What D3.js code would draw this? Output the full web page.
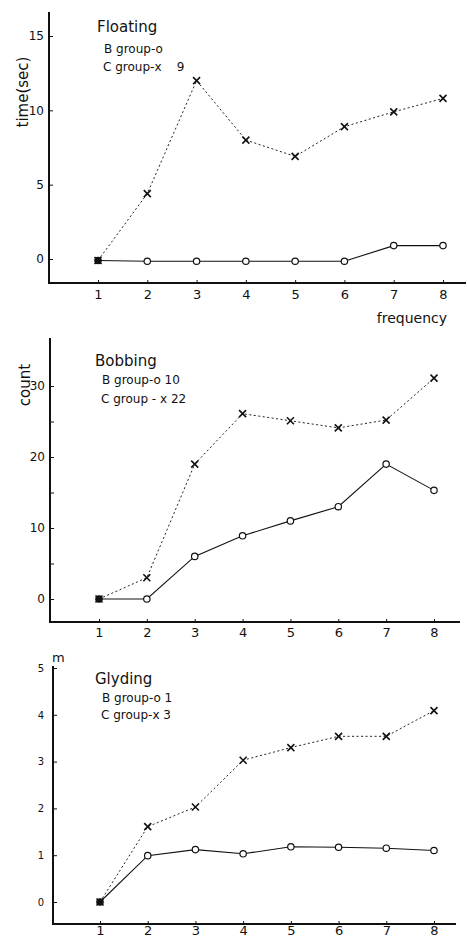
<!DOCTYPE html>
<html>
<head>
<meta charset="utf-8">
<script src="https://cdn.jsdelivr.net/npm/d3@7"></script>
<style>
body { margin: 0; background: #fff; }
text { font-family: "DejaVu Sans", sans-serif; fill: #111; white-space: pre; }
</style>
</head>
<body>
<svg id="chart" width="467" height="940"></svg>
<script>

var freq = [1, 2, 3, 4, 5, 6, 7, 8];

var floatB = [-0.1, -0.15, -0.15, -0.15, -0.15, -0.15, 0.9, 0.9];
var floatC = [-0.1, 4.4, 12.0, 8.0, 6.9, 8.9, 9.9, 10.8];
var bobB = [0, 0, 6.0, 8.9, 11.0, 13.0, 19.0, 15.3];
var bobC = [0, 3.0, 19.0, 26.1, 25.1, 24.1, 25.2, 31.1];
var glideB = [0, 0.99, 1.12, 1.03, 1.18, 1.17, 1.15, 1.10];
var glideC = [0, 1.61, 2.03, 3.03, 3.30, 3.54, 3.54, 4.09];

var floatTicks = [0, 5, 10, 15];
var bobTicks = [0, 5, 10, 15, 20, 25, 30];
var glideTicks = [0, 1, 2, 3, 4, 5];

var titles = ["Floating", "Bobbing", "Glyding"];
var legendB = ["B group-o", "B group-o 10", "B group-o 1"];
var legendC = ["C group-x    9", "C group - x 22", "C group-x 3"];
var yLabels = ["time(sec)", "count", "m"];

var svg = d3.select("#chart");

function drawPanel(p)
{
	var g = svg.append("g");

	var x = d3.scaleLinear().domain([1, 8]).range(p.xr);
	var y = d3.scaleLinear().domain(p.yd).range(p.yr);

	// axis lines
	g.append("line")
		.attr("x1", p.left).attr("x2", p.left)
		.attr("y1", p.top).attr("y2", p.bottom + 1)
		.attr("stroke", "#111").attr("stroke-width", 2);
	g.append("line")
		.attr("x1", p.left - 1).attr("x2", p.right)
		.attr("y1", p.bottom).attr("y2", p.bottom)
		.attr("stroke", "#111").attr("stroke-width", 2);

	var yAxis = d3.axisLeft(y)
		.tickValues(p.ticks)
		.tickSizeInner(-4)
		.tickSizeOuter(0)
		.tickPadding(p.yPad)
		.tickFormat(function(d)
		{
			return p.labelEvery && d % p.labelEvery ? "" : d;
		});
	var ya = g.append("g")
		.attr("transform", "translate(" + p.left + ",0)")
		.call(yAxis);
	ya.select(".domain").remove();
	ya.selectAll("text").style("font-family", "DejaVu Sans").style("font-size", p.yFont + "px").attr("fill", "#111");
	ya.selectAll("line").attr("stroke", "#111");

	var xAxis = d3.axisBottom(x)
		.tickValues(freq)
		.tickFormat(d3.format("d"))
		.tickSizeInner(-3)
		.tickSizeOuter(0)
		.tickPadding(p.xPad);
	var xa = g.append("g")
		.attr("transform", "translate(0," + p.bottom + ")")
		.call(xAxis);
	xa.select(".domain").remove();
	xa.selectAll("text").style("font-family", "DejaVu Sans").style("font-size", "13px").attr("fill", "#111");
	xa.selectAll("line").attr("stroke", "#111");

	var line = d3.line()
		.x(function(d, i) { return x(freq[i]); })
		.y(function(d) { return y(d); });

	g.append("path")
		.datum(p.c)
		.attr("d", line)
		.attr("fill", "none")
		.attr("stroke", "#222")
		.attr("stroke-width", 1)
		.attr("stroke-dasharray", "2,2.5");

	g.append("path")
		.datum(p.b)
		.attr("d", line)
		.attr("fill", "none")
		.attr("stroke", "#111")
		.attr("stroke-width", 1.1);

	g.selectAll(".xm")
		.data(p.c)
		.enter()
		.append("path")
		.attr("d", function(d, i)
		{
			var cx = x(freq[i]), cy = y(d), s = 3.5;
			return "M" + (cx - s) + "," + (cy - s) + "L" + (cx + s) + "," + (cy + s) +
				"M" + (cx - s) + "," + (cy + s) + "L" + (cx + s) + "," + (cy - s);
		})
		.attr("stroke", "#111")
		.attr("stroke-width", 1.6);

	g.selectAll(".om")
		.data(p.b)
		.enter()
		.append("circle")
		.attr("cx", function(d, i) { return x(freq[i]); })
		.attr("cy", function(d) { return y(d); })
		.attr("r", 3.2)
		.attr("fill", function(d, i) { return i == 0 ? "#111" : "#fff"; })
		.attr("stroke", "#111")
		.attr("stroke-width", 1.2);

	g.append("text")
		.attr("x", p.titleX).attr("y", p.titleY)
		.style("font-size", "15px")
		.text(p.title);
	g.append("text")
		.attr("x", p.titleX + 7).attr("y", p.titleY + p.legGap)
		.style("font-size", "12px")
		.text(p.legB);
	g.append("text")
		.attr("x", p.titleX + 6).attr("y", p.titleY + p.legGap + p.legStep)
		.style("font-size", "12px")
		.text(p.legC);

	return g;
}

var panels = [
	{ title: titles[0], b: floatB, c: floatC, ticks: floatTicks, yd: [0, 15], yr: [259, 36],
	  xr: [98, 443], left: 49, right: 466, top: 12, bottom: 283, yPad: 5, yFont: 12, xPad: 7,
	  titleX: 97, titleY: 32, legGap: 21, legStep: 18, legB: legendB[0], legC: legendC[0] },
	{ title: titles[1], b: bobB, c: bobC, ticks: bobTicks, yd: [0, 30], yr: [599, 386], labelEvery: 10,
	  xr: [99, 434], left: 50, right: 460, top: 338, bottom: 622, yPad: 5, yFont: 12, xPad: 6,
	  titleX: 95, titleY: 366, legGap: 18, legStep: 19, legB: legendB[1], legC: legendC[1] },
	{ title: titles[2], b: glideB, c: glideC, ticks: glideTicks, yd: [0, 5], yr: [902, 668],
	  xr: [100, 434], left: 53, right: 456, top: 666, bottom: 924, yPad: 9, yFont: 10, xPad: 2,
	  titleX: 95, titleY: 684, legGap: 18, legStep: 17, legB: legendB[2], legC: legendC[2] }
];

panels.forEach(drawPanel);

// axis titles
svg.append("text")
	.attr("transform", "translate(28,92) rotate(-90)")
	.attr("text-anchor", "middle")
	.style("font-size", "15px")
	.text(yLabels[0]);
svg.append("text")
	.attr("transform", "translate(30,385) rotate(-90)")
	.attr("text-anchor", "middle")
	.style("font-size", "15px")
	.text(yLabels[1]);
svg.append("text")
	.attr("x", 52).attr("y", 662)
	.style("font-size", "13px")
	.text(yLabels[2]);
svg.append("text")
	.attr("x", 447).attr("y", 323)
	.attr("text-anchor", "end")
	.style("font-size", "14px")
	.text("frequency");

</script>
</body>
</html>
